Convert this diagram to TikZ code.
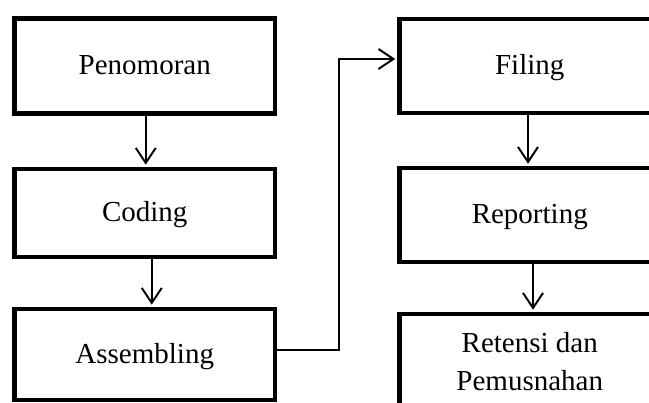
\documentclass[tikz,border=0pt]{standalone}
\usepackage{fontspec}
\setmainfont{Liberation Serif}
\usetikzlibrary{arrows.meta, positioning}
\tikzset{
  prosesbox/.style={rectangle, draw=black, line width=4.5pt, minimum width=260.5pt, minimum height=94pt, align=center, inner sep=2pt, font=\fontsize{29}{38}\selectfont},
  satubaris/.style={text height=20pt, text depth=2pt},
  panah/.style={-{Straight Barb[length=15pt, width=20pt]}, line width=2pt, shorten >=2pt}
}

\begin{document}
\begin{tikzpicture}[x=1pt, y=-1pt]
    \useasboundingbox (0,0) rectangle (649,403);
    \clip (0,0) rectangle (649,403);

    % Kolom kiri
    \node[prosesbox, satubaris, minimum height=95pt] (penomoran) at (144.75, 66) {Penomoran};
    \node[prosesbox, satubaris, minimum height=88pt] (coding) at (144.75, 213) {Coding};
    \node[prosesbox, satubaris, minimum height=91pt] (assembling) at (144.75, 354.5) {Assembling};

    % Kolom kanan (terpotong di tepi kanan)
    \node[prosesbox, satubaris] (filing) at (529.75, 66) {Filing};
    \node[prosesbox, satubaris] (reporting) at (529.75, 215) {Reporting};
    \node[prosesbox, minimum height=95pt] (retensi) at (529.75, 361.5) {Retensi dan\\Pemusnahan};

    % Panah antar tahap
    \draw[panah] ([xshift=1pt]penomoran.south) -- ([xshift=1pt]coding.north);
    \draw[panah] ([xshift=7pt, yshift=4pt]coding.south) -- ([xshift=7pt]assembling.north);
    \draw[panah] ([yshift=4.5pt]assembling.east) -- ++(61.5,0) |- ([yshift=7pt]filing.west);
    \draw[panah] ([xshift=-1.75pt]filing.south) -- ([xshift=-1.75pt]reporting.north);
    \draw[panah] ([xshift=3.25pt, yshift=4pt]reporting.south) -- ([xshift=3.25pt]retensi.north);
\end{tikzpicture}
\end{document}
